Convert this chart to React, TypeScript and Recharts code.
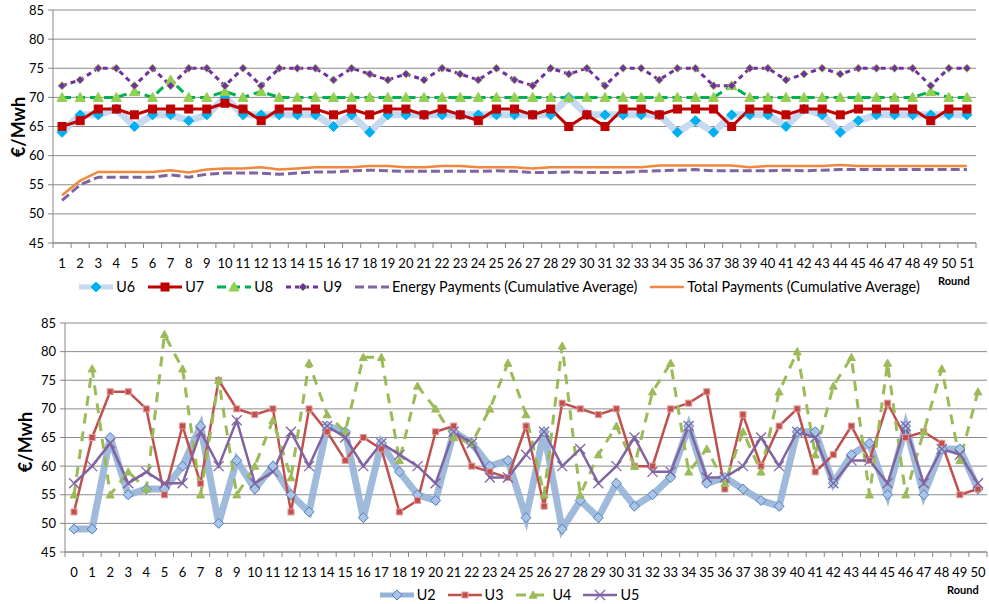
import { LineChart, Line, XAxis, YAxis, CartesianGrid, Legend } from "recharts";

const FONT = "Lato, 'Open Sans', sans-serif";
const AXIS = "#868686";
const GRID = "#8c8c8c";

// ---- top chart: rounds 1..51
const TOP_ROUNDS = Array.from({ length: 51 }, (_, i) => String(i + 1));
const U6 = [64, 67, 67, 68, 65, 67, 67, 66, 67, 70, 67, 67, 67, 67, 67, 65, 67, 64, 67, 67, 67, 67, 67, 67, 67, 67, 67, 67, 70, 67, 67, 67, 67, 67, 64, 66, 64, 67, 67, 67, 65, 68, 67, 64, 66, 67, 67, 67, 67, 67, 67];
const U7 = [65, 66, 68, 68, 67, 68, 68, 68, 68, 69, 68, 66, 68, 68, 68, 67, 68, 67, 68, 68, 67, 68, 67, 66, 68, 68, 67, 68, 65, 67, 65, 68, 68, 67, 68, 68, 68, 65, 68, 68, 67, 68, 68, 67, 68, 68, 68, 68, 66, 68, 68];
const U8 = [70, 70, 70, 70, 71, 70, 73, 70, 70, 71, 70, 71, 70, 70, 70, 70, 70, 70, 70, 70, 70, 70, 70, 70, 70, 70, 70, 70, 70, 70, 70, 70, 70, 70, 70, 70, 70, 72, 70, 70, 70, 70, 70, 70, 70, 70, 70, 70, 71, 70, 70];
const U9 = [72, 73, 75, 75, 72, 75, 72, 75, 75, 72, 75, 72, 75, 75, 75, 73, 75, 74, 73, 74, 73, 75, 74, 73, 75, 73, 72, 75, 74, 75, 72, 75, 75, 73, 75, 75, 72, 72, 75, 75, 73, 74, 75, 74, 75, 75, 75, 75, 72, 75, 75];
const ENERGY_AVG = [52.3, 55, 56.3, 56.3, 56.3, 56.3, 56.7, 56.3, 56.8, 57, 57, 57, 56.8, 57, 57.2, 57.2, 57.4, 57.5, 57.4, 57.3, 57.3, 57.3, 57.3, 57.3, 57.4, 57.3, 57.1, 57.1, 57.2, 57.1, 57.1, 57.1, 57.3, 57.4, 57.5, 57.6, 57.4, 57.4, 57.4, 57.4, 57.5, 57.4, 57.5, 57.6, 57.6, 57.6, 57.6, 57.6, 57.6, 57.6, 57.6];
const TOTAL_AVG = [53.2, 55.7, 57.2, 57.2, 57.2, 57.2, 57.5, 57.1, 57.6, 57.8, 57.8, 58, 57.6, 57.8, 58, 58, 58, 58.2, 58.2, 58, 58, 58.2, 58.2, 58, 58, 58, 57.8, 58, 58, 58, 58, 58, 58, 58.3, 58.3, 58.3, 58.3, 58.3, 58, 58.2, 58.2, 58.2, 58.2, 58.4, 58.2, 58.2, 58.2, 58.2, 58.2, 58.2, 58.2];

// ---- bottom chart: rounds 0..50
const BOTTOM_ROUNDS = Array.from({ length: 51 }, (_, i) => String(i));
const U2 = [49, 49, 65, 55, 56, 56, 60, 67, 50, 61, 56, 60, 55, 52, 67, 66, 51, 64, 59, 55, 54, 66, 64, 60, 61, 51, 66, 49, 54, 51, 57, 53, 55, 58, 67, 57, 58, 56, 54, 53, 66, 66, 57, 62, 64, 55, 67, 55, 63, 63, 56];
const U3 = [52, 65, 73, 73, 70, 55, 67, 57, 75, 70, 69, 70, 52, 70, 66, 61, 65, 63, 52, 54, 66, 67, 60, 59, 58, 67, 53, 71, 70, 69, 70, 60, 60, 70, 71, 73, 56, 69, 60, 67, 70, 59, 62, 67, 61, 71, 65, 66, 64, 55, 56];
const U4 = [55, 77, 55, 59, 56, 83, 77, 55, 75, 55, 60, 68, 58, 78, 69, 66, 79, 79, 61, 74, 70, 65, 64, 70, 78, 69, 55, 81, 55, 62, 67, 60, 73, 78, 59, 63, 57, 66, 59, 73, 80, 62, 74, 79, 55, 78, 55, 66, 77, 61, 73];
const U5 = [57, 60, 64, 57, 59, 57, 57, 66, 60, 68, 57, 59, 66, 60, 67, 65, 60, 64, 62, 60, 57, 66, 64, 58, 58, 62, 66, 60, 63, 57, 60, 65, 59, 59, 67, 58, 58, 60, 65, 60, 66, 65, 57, 61, 61, 57, 67, 57, 63, 62, 57];

const Y_TICKS = [45, 50, 55, 60, 65, 70, 75, 80, 85];

const topData = TOP_ROUNDS.map((round, i) => ({
  round, U6: U6[i], U7: U7[i], U8: U8[i], U9: U9[i], energy: ENERGY_AVG[i], total: TOTAL_AVG[i],
}));
const bottomData = BOTTOM_ROUNDS.map((round, i) => ({
  round, U2: U2[i], U3: U3[i], U4: U4[i], U5: U5[i],
}));

type Marker = "diamond" | "square" | "triangle" | "x" | "none";
interface SeriesDef {
  key: string; label: string; stroke: string; width: number; dash?: string;
  marker: Marker; fill?: string; edge?: string; size?: number; opacity?: number;
}

const TOP_SERIES: SeriesDef[] = [
  { key: "U6", label: "U6", stroke: "#c6d9f0", width: 7, marker: "diamond", fill: "#00b0f0", edge: "#00b0f0", size: 5 },
  { key: "U7", label: "U7", stroke: "#c00000", width: 3, marker: "square", fill: "#c00000", edge: "#c00000", size: 4 },
  { key: "U8", label: "U8", stroke: "#00b050", width: 3, dash: "9 5", marker: "triangle", fill: "#92d050", edge: "#92d050", size: 5 },
  { key: "U9", label: "U9", stroke: "#7030a0", width: 3, dash: "5 4", marker: "diamond", fill: "#7030a0", edge: "#9bbb59", size: 4 },
  { key: "energy", label: "Energy Payments (Cumulative Average)", stroke: "#8064a2", width: 3, dash: "9 4", marker: "none" },
  { key: "total", label: "Total Payments (Cumulative Average)", stroke: "#f0883e", width: 2.5, marker: "none" },
];

const BOTTOM_SERIES: SeriesDef[] = [
  { key: "U2", label: "U2", stroke: "#95b3d7", width: 7, marker: "diamond", fill: "#a9c4e6", edge: "#4f81bd", size: 5, opacity: 0.9 },
  { key: "U3", label: "U3", stroke: "#c0504d", width: 2.5, marker: "square", fill: "#c0504d", edge: "#e39c9a", size: 3 },
  { key: "U4", label: "U4", stroke: "#9bbb59", width: 3, dash: "10 8", marker: "triangle", fill: "#9bbb59", edge: "#9bbb59", size: 4 },
  { key: "U5", label: "U5", stroke: "#8064a2", width: 2.5, marker: "x", fill: "#8064a2", edge: "#8064a2", size: 5 },
];

function markerShape(s: SeriesDef, cx: number, cy: number, key?: number | string) {
  const r = s.size ?? 4;
  if (s.marker === "diamond")
    return <polygon key={key} points={`${cx},${cy - r} ${cx + r},${cy} ${cx},${cy + r} ${cx - r},${cy}`} fill={s.fill} stroke={s.edge} strokeWidth={1} />;
  if (s.marker === "square")
    return <rect key={key} x={cx - r} y={cy - r} width={2 * r} height={2 * r} fill={s.fill} stroke={s.edge} strokeWidth={1} />;
  if (s.marker === "triangle")
    return <polygon key={key} points={`${cx},${cy - r} ${cx + r},${cy + r * 0.8} ${cx - r},${cy + r * 0.8}`} fill={s.fill} stroke={s.edge} strokeWidth={1} />;
  if (s.marker === "x")
    return (
      <g key={key} stroke={s.edge} strokeWidth={1.3}>
        <line x1={cx - r} y1={cy - r} x2={cx + r} y2={cy + r} />
        <line x1={cx - r} y1={cy + r} x2={cx + r} y2={cy - r} />
      </g>
    );
  return <g key={key} />;
}

const dotFor = (s: SeriesDef) =>
  s.marker === "none"
    ? false
    : (p: any) => (p.cx == null || p.cy == null ? <g key={p.index} /> : markerShape(s, p.cx, p.cy, p.index));

function RoundTick(props: any) {
  const { x, payload, index, axisY, bw, count } = props;
  return (
    <g>
      <line x1={x - bw / 2} x2={x - bw / 2} y1={axisY} y2={axisY + 5} stroke={AXIS} />
      {index === count - 1 && <line x1={x + bw / 2} x2={x + bw / 2} y1={axisY} y2={axisY + 5} stroke={AXIS} />}
      <text x={x} y={axisY + 25} textAnchor="middle" fontSize={13} fontFamily={FONT} fill="#000">
        {payload.value}
      </text>
    </g>
  );
}

function LegendRow({ series, gap }: { series: SeriesDef[]; gap: number }) {
  return (
    <div style={{ display: "flex", justifyContent: "center", alignItems: "center", gap, fontFamily: FONT, fontSize: 14.4, color: "#000" }}>
      {series.map((s) => (
        <div key={s.key} style={{ display: "flex", alignItems: "center", gap: 3 }}>
          <svg width={34} height={14}>
            <line x1={0} x2={34} y1={7} y2={7} stroke={s.stroke} strokeWidth={Math.min(s.width, 5)} strokeDasharray={s.dash} />
            {s.marker !== "none" && markerShape(s, 17, 7)}
          </svg>
          <span style={{ whiteSpace: "nowrap" }}>{s.label}</span>
        </div>
      ))}
    </div>
  );
}

const yLabel: React.CSSProperties = {
  position: "absolute", fontFamily: FONT, fontWeight: 700, fontSize: 18,
  transform: "translate(-50%, -50%) rotate(-90deg)", whiteSpace: "nowrap",
};
const roundLabel: React.CSSProperties = {
  position: "absolute", fontFamily: FONT, fontWeight: 700, fontSize: 11,
};

// plot boxes (px)
const TOP_W = 989, TOP_H = 300, TOP_LEFT = 53, TOP_RIGHT = 13, TOP_TOP = 10, TOP_AXIS_Y = 243;
const BOT_W = 989, BOT_H = 304, BOT_LEFT = 65, BOT_RIGHT = 2, BOT_TOP = 23, BOT_AXIS_Y = 252;
const TOP_BW = (TOP_W - TOP_LEFT - TOP_RIGHT) / TOP_ROUNDS.length;
const BOT_BW = (BOT_W - BOT_LEFT - BOT_RIGHT) / BOTTOM_ROUNDS.length;

export default function App() {
  return (
    <div style={{ position: "absolute", left: 0, top: 0, width: 989, height: 604, background: "#fff" }}>
      <div style={{ position: "absolute", left: 0, top: 0 }}>
        <LineChart width={TOP_W} height={TOP_H} data={topData}
          margin={{ top: TOP_TOP, right: TOP_RIGHT, left: 0, bottom: TOP_H - TOP_AXIS_Y - 25 }}>
          <CartesianGrid vertical={false} stroke={GRID} />
          <XAxis dataKey="round" interval={0} height={25} axisLine={{ stroke: AXIS }} tickLine={false}
            padding={{ left: TOP_BW / 2, right: TOP_BW / 2 }}
            tick={<RoundTick axisY={TOP_AXIS_Y} bw={TOP_BW} count={TOP_ROUNDS.length} />} />
          <YAxis width={TOP_LEFT} domain={[45, 85]} ticks={Y_TICKS} interval={0} tickSize={5} tickMargin={4}
            axisLine={{ stroke: AXIS }} tickLine={{ stroke: AXIS }}
            tick={{ fontSize: 13, fill: "#000", fontFamily: FONT }} />
          <Legend layout="horizontal" verticalAlign="middle" align="center"
            wrapperStyle={{ top: 278, left: 5, width: TOP_W, height: 20 }}
            content={() => <LegendRow series={TOP_SERIES} gap={13} />} />
          {TOP_SERIES.map((s) => (
            <Line key={s.key} type="linear" dataKey={s.key} stroke={s.stroke} strokeWidth={s.width}
              strokeDasharray={s.dash} dot={dotFor(s)} activeDot={false} isAnimationActive={false} />
          ))}
        </LineChart>
      </div>
      <div style={{ ...yLabel, left: 18, top: 127 }}>€/Mwh</div>
      <div style={{ ...roundLabel, left: 938, top: 274 }}>Round</div>

      <div style={{ position: "absolute", left: 0, top: 300 }}>
        <LineChart width={BOT_W} height={BOT_H} data={bottomData}
          margin={{ top: BOT_TOP, right: BOT_RIGHT, left: 0, bottom: BOT_H - BOT_AXIS_Y - 25 }}>
          <CartesianGrid vertical={false} stroke={GRID} />
          <XAxis dataKey="round" interval={0} height={25} axisLine={{ stroke: AXIS }} tickLine={false}
            padding={{ left: BOT_BW / 2, right: BOT_BW / 2 }}
            tick={<RoundTick axisY={BOT_AXIS_Y} bw={BOT_BW} count={BOTTOM_ROUNDS.length} />} />
          <YAxis width={BOT_LEFT} domain={[45, 85]} ticks={Y_TICKS} interval={0} tickSize={5} tickMargin={4}
            axisLine={{ stroke: AXIS }} tickLine={{ stroke: AXIS }}
            tick={{ fontSize: 13, fill: "#000", fontFamily: FONT }} />
          <Legend layout="horizontal" verticalAlign="middle" align="center"
            wrapperStyle={{ top: 286, left: 15, width: BOT_W, height: 20 }}
            content={() => <LegendRow series={BOTTOM_SERIES} gap={12} />} />
          {BOTTOM_SERIES.map((s) => (
            <Line key={s.key} type="linear" dataKey={s.key} stroke={s.stroke} strokeWidth={s.width}
              strokeOpacity={s.opacity ?? 1} strokeDasharray={s.dash} dot={dotFor(s)} activeDot={false}
              isAnimationActive={false} />
          ))}
        </LineChart>
      </div>
      <div style={{ ...yLabel, left: 25, top: 442 }}>€/Mwh</div>
      <div style={{ ...roundLabel, left: 947, top: 583 }}>Round</div>
    </div>
  );
}
